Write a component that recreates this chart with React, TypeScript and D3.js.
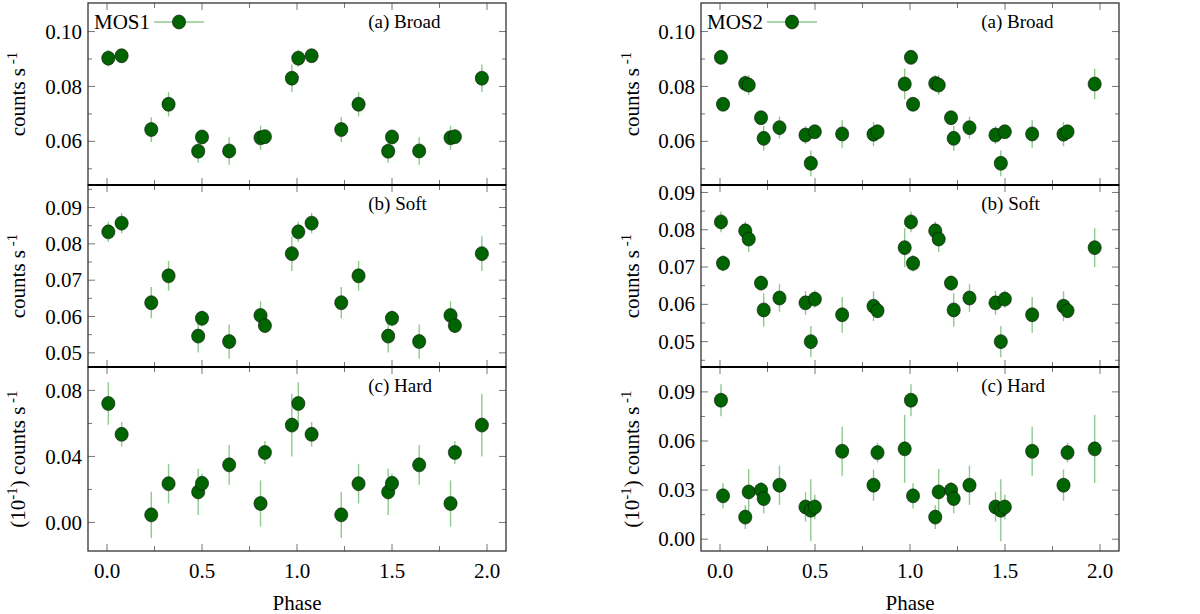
import * as d3 from 'd3';

// MOS1: one cycle of phase bins (drawn twice, phase and phase + 1)
const PHASE1 = [0.007, 0.077, 0.233, 0.324, 0.48, 0.5, 0.643, 0.808, 0.831, 0.973];
const BROAD1 = [0.0903, 0.0912, 0.0643, 0.0735, 0.0564, 0.0616, 0.0565, 0.0613, 0.0617, 0.083];
const BROAD1_ERR = [0.003, 0.0025, 0.0045, 0.0044, 0.0042, 0.002, 0.005, 0.0044, 0.002, 0.005];
const SOFT1 = [0.0833, 0.0857, 0.0638, 0.0712, 0.0546, 0.0595, 0.0531, 0.0603, 0.0575, 0.0773];
const SOFT1_ERR = [0.0028, 0.0028, 0.0043, 0.0041, 0.0045, 0.0022, 0.0047, 0.0039, 0.002, 0.0048];
const HARD1 = [0.0721, 0.0534, 0.0046, 0.0235, 0.0185, 0.0237, 0.0349, 0.0115, 0.0424, 0.059];
const HARD1_ERR = [0.0129, 0.0075, 0.014, 0.012, 0.014, 0.006, 0.012, 0.014, 0.007, 0.019];

// MOS2
const PHASE2 = [0.005, 0.016, 0.133, 0.151, 0.216, 0.23, 0.313, 0.45, 0.478, 0.499, 0.643, 0.808, 0.829, 0.972];
const BROAD2 = [0.0906, 0.0735, 0.0811, 0.0805, 0.0686, 0.0611, 0.065, 0.0623, 0.052, 0.0635, 0.0627, 0.0626, 0.0635, 0.0809];
const BROAD2_ERR = [0.0025, 0.002, 0.003, 0.0036, 0.002, 0.0045, 0.004, 0.0033, 0.0047, 0.002, 0.005, 0.0044, 0.002, 0.0056];
const SOFT2 = [0.0821, 0.071, 0.0797, 0.0775, 0.0657, 0.0585, 0.0617, 0.0604, 0.05, 0.0614, 0.0572, 0.0595, 0.0583, 0.0752];
const SOFT2_ERR = [0.0028, 0.0022, 0.0025, 0.0035, 0.002, 0.0045, 0.0037, 0.0032, 0.0042, 0.0023, 0.0048, 0.004, 0.002, 0.0052];
const HARD2 = [0.0849, 0.0265, 0.0135, 0.0289, 0.03, 0.0248, 0.033, 0.0197, 0.0177, 0.0197, 0.0537, 0.033, 0.0529, 0.0552];
const HARD2_ERR = [0.0098, 0.0077, 0.0073, 0.014, 0.005, 0.009, 0.012, 0.009, 0.019, 0.0075, 0.015, 0.0095, 0.006, 0.0208];

const X_TICKS = [0, 0.5, 1, 1.5, 2];
const X_MINOR = [0.25, 0.75, 1.25, 1.75];
const LABELS = ['(a) Broad', '(b) Soft', '(c) Hard'];

const W = 1200;
const H = 614;
const FONT = "'Times New Roman', Times, 'Liberation Serif', 'DejaVu Serif', 'Noto Serif', serif";
const PANEL_Y = [3, 185, 367, 551];
const DOT = '#006400';
const ERRC = '#8fca8f';
const TICKC = '#777';

interface PanelSpec {
  values: number[];
  errs: number[];
  domain: [number, number];
  major: number[];
  minor: number[];
  ylabel: 'plain' | 'scaled';
}

interface ColumnSpec {
  name: string;
  phase: number[];
  x0: number;
  x1: number;
  ylabelX: number;
  panels: PanelSpec[];
}

const columns: ColumnSpec[] = [
  {
    name: 'MOS1',
    phase: PHASE1,
    x0: 88,
    x1: 506,
    ylabelX: 25,
    panels: [
      { values: BROAD1, errs: BROAD1_ERR, domain: [0.0441, 0.1104], major: [0.06, 0.08, 0.1], minor: [0.05, 0.07, 0.09], ylabel: 'plain' },
      { values: SOFT1, errs: SOFT1_ERR, domain: [0.0461, 0.0962], major: [0.05, 0.06, 0.07, 0.08, 0.09], minor: [0.055, 0.065, 0.075, 0.085, 0.095], ylabel: 'plain' },
      { values: HARD1, errs: HARD1_ERR, domain: [-0.0173, 0.0942], major: [0, 0.04, 0.08], minor: [0.02, 0.06], ylabel: 'scaled' },
    ],
  },
  {
    name: 'MOS2',
    phase: PHASE2,
    x0: 701,
    x1: 1119,
    ylabelX: 639,
    panels: [
      { values: BROAD2, errs: BROAD2_ERR, domain: [0.0441, 0.1104], major: [0.06, 0.08, 0.1], minor: [0.05, 0.07, 0.09], ylabel: 'plain' },
      { values: SOFT2, errs: SOFT2_ERR, domain: [0.0432, 0.092], major: [0.05, 0.06, 0.07, 0.08, 0.09], minor: [0.045, 0.055, 0.065, 0.075, 0.085], ylabel: 'plain' },
      { values: HARD2, errs: HARD2_ERR, domain: [-0.0072, 0.1052], major: [0, 0.03, 0.06, 0.09], minor: [0.015, 0.045, 0.075], ylabel: 'scaled' },
    ],
  },
];

const textStyle = { fontFamily: FONT };

function Column({ col }: { col: ColumnSpec }) {
  const x = d3.scaleLinear().domain([-0.1, 2.1]).range([col.x0, col.x1]);
  const fmt = d3.format('.2f');
  const cx = (col.x0 + col.x1) / 2;
  // two cycles of the same folded light curve
  const idx = d3.range(col.phase.length);
  const cycles = [0, 1];

  return (
    <g>
      {col.panels.map((p, pi) => {
        const top = PANEL_Y[pi];
        const bot = PANEL_Y[pi + 1];
        const y = d3.scaleLinear().domain(p.domain).range([bot, top]);
        const mid = (top + bot) / 2;
        return (
          <g key={pi}>
            {/* ticks */}
            {p.major.map((v) => (
              <g key={'M' + v}>
                <line x1={col.x0} x2={col.x0 + 7} y1={y(v)} y2={y(v)} stroke={TICKC} strokeWidth={1} />
                <line x1={col.x1} x2={col.x1 - 7} y1={y(v)} y2={y(v)} stroke={TICKC} strokeWidth={1} />
                <text x={col.x0 - 6} y={y(v)} dy="0.34em" textAnchor="end" fontSize={21} style={textStyle}>
                  {fmt(v)}
                </text>
              </g>
            ))}
            {p.minor.filter((v) => v > p.domain[0] && v < p.domain[1]).map((v) => (
              <g key={'m' + v}>
                <line x1={col.x0} x2={col.x0 + 4} y1={y(v)} y2={y(v)} stroke={TICKC} strokeWidth={1} />
                <line x1={col.x1} x2={col.x1 - 4} y1={y(v)} y2={y(v)} stroke={TICKC} strokeWidth={1} />
              </g>
            ))}
            {[...X_TICKS, ...X_MINOR].map((v) => {
              const len = X_TICKS.includes(v) ? 7 : 5;
              return (
                <g key={'x' + v}>
                  <line x1={x(v)} x2={x(v)} y1={top} y2={top + len} stroke={TICKC} strokeWidth={1} />
                  <line x1={x(v)} x2={x(v)} y1={bot} y2={bot - len} stroke={TICKC} strokeWidth={1} />
                </g>
              );
            })}
            {/* frame */}
            <rect x={col.x0} y={top} width={col.x1 - col.x0} height={bot - top} fill="none" stroke="#333" strokeWidth={1.3} />
            {pi > 0 && <line x1={col.x0} x2={col.x1} y1={top} y2={top} stroke="#000" strokeWidth={2} />}
            {/* error bars */}
            {cycles.map((c) =>
              idx.map((i) => (
                <line
                  key={'e' + c + '-' + i}
                  x1={x(col.phase[i] + c)}
                  x2={x(col.phase[i] + c)}
                  y1={y(p.values[i] - p.errs[i])}
                  y2={y(p.values[i] + p.errs[i])}
                  stroke={ERRC}
                  strokeWidth={1.4}
                />
              ))
            )}
            {/* points */}
            {cycles.map((c) =>
              idx.map((i) => (
                <ellipse
                  key={'p' + c + '-' + i}
                  cx={x(col.phase[i] + c)}
                  cy={y(p.values[i])}
                  rx={6.6}
                  ry={7}
                  fill={DOT}
                  stroke="#111"
                  strokeWidth={0.6}
                />
              ))
            )}
            {/* panel tag */}
            <text x={x(1.375)} y={top + 25} fontSize={19} style={textStyle}>
              {LABELS[pi]}
            </text>
            {/* y label */}
            <text
              transform={`translate(${col.ylabelX},${mid}) rotate(-90)`}
              textAnchor="middle"
              fontSize={21}
              style={textStyle}
            >
              {p.ylabel === 'scaled' && (
                <>
                  <tspan>(10</tspan>
                  <tspan dy={-8} fontSize={15}>-1</tspan>
                  <tspan dy={8}>) </tspan>
                </>
              )}
              <tspan>counts s</tspan>
              <tspan dy={-8} fontSize={15}> -1</tspan>
            </text>
          </g>
        );
      })}
      {/* x tick labels */}
      {X_TICKS.map((v) => (
        <text key={v} x={x(v)} y={578} textAnchor="middle" fontSize={21} style={textStyle}>
          {d3.format('.1f')(v)}
        </text>
      ))}
      <text x={cx} y={610} textAnchor="middle" fontSize={21} style={textStyle}>
        Phase
      </text>
      {/* legend */}
      <text x={col.x0 + 6} y={29} fontSize={21} style={textStyle}>
        {col.name}
      </text>
      <line x1={col.x0 + 66} x2={col.x0 + 116} y1={22} y2={22} stroke={ERRC} strokeWidth={1.4} />
      <ellipse cx={col.x0 + 91} cy={22} rx={6.6} ry={7} fill={DOT} stroke="#111" strokeWidth={0.6} />
    </g>
  );
}

export default function App() {
  return (
    <svg
      width={W}
      height={H}
      style={{ position: 'absolute', left: 0, top: 0, display: 'block', background: '#fff' }}
    >
      <rect width={W} height={H} fill="#fff" />
      {columns.map((c) => (
        <Column key={c.name} col={c} />
      ))}
    </svg>
  );
}
